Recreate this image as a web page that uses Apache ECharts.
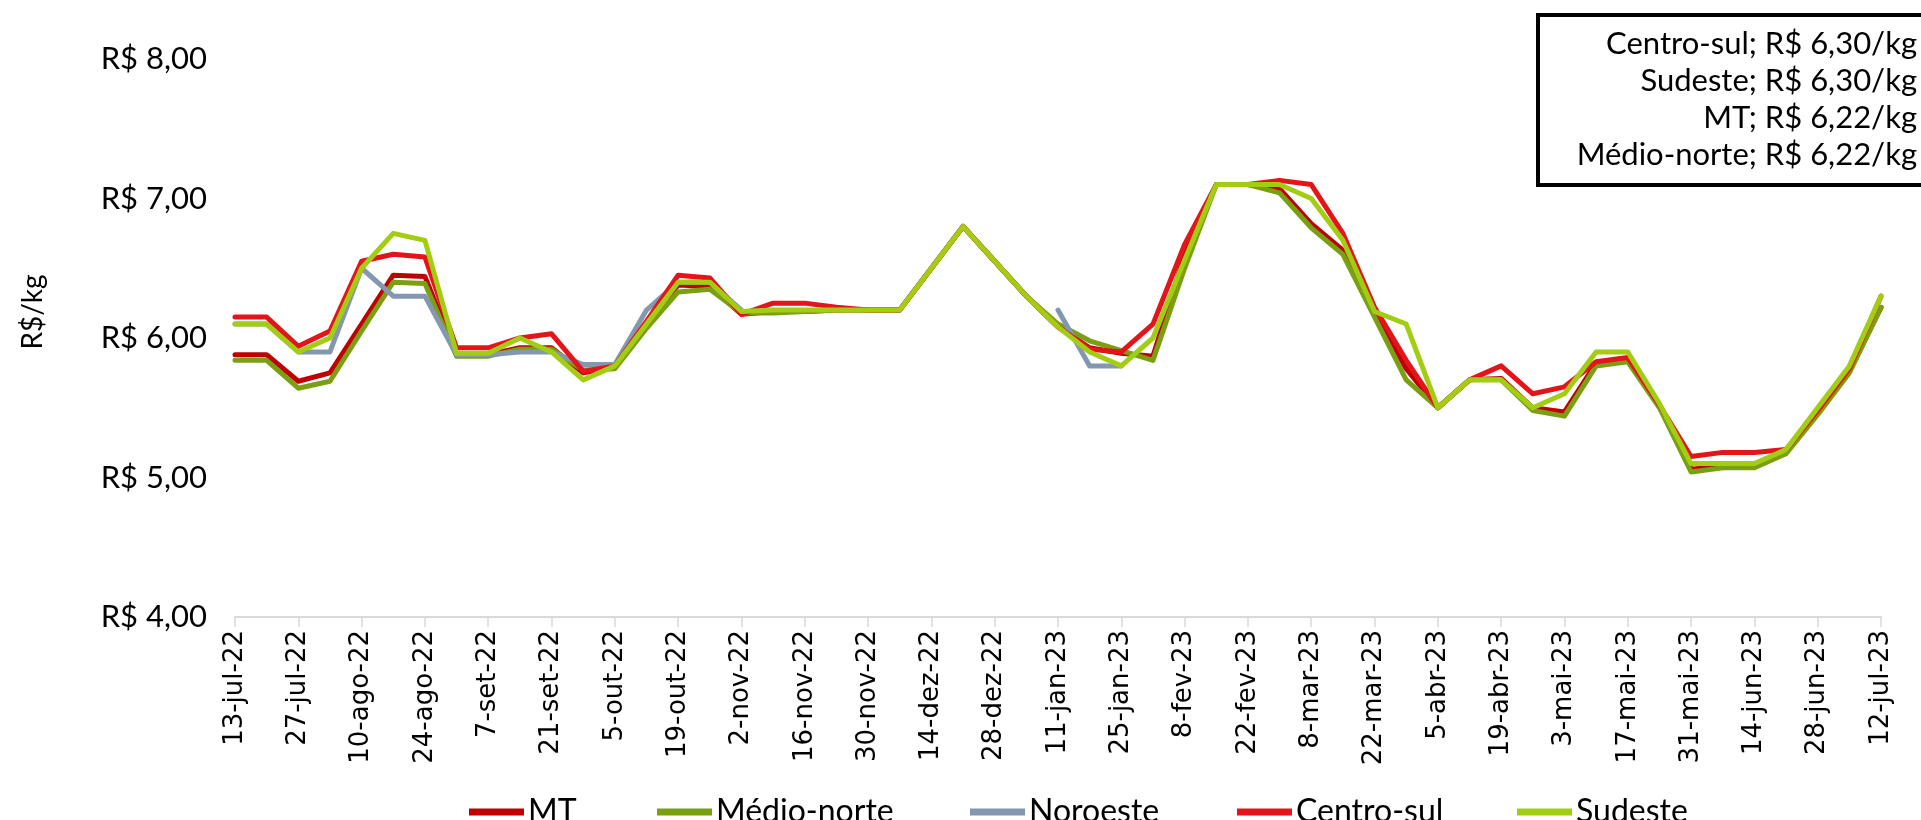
<!DOCTYPE html>
<html><head><meta charset="utf-8">
<script src="https://cdn.jsdelivr.net/npm/echarts@6/dist/echarts.min.js"></script>
<style>html,body{margin:0;padding:0;background:#fff}#c{width:1921px;height:820px}</style>
</head><body><div id="c"></div>
<script>
const categories = ['13-jul-22','20-jul-22','27-jul-22','3-ago-22','10-ago-22','17-ago-22','24-ago-22','31-ago-22','7-set-22','14-set-22','21-set-22','28-set-22','5-out-22','12-out-22','19-out-22','26-out-22','2-nov-22','9-nov-22','16-nov-22','23-nov-22','30-nov-22','7-dez-22','14-dez-22','21-dez-22','28-dez-22','4-jan-23','11-jan-23','18-jan-23','25-jan-23','1-fev-23','8-fev-23','15-fev-23','22-fev-23','1-mar-23','8-mar-23','15-mar-23','22-mar-23','29-mar-23','5-abr-23','12-abr-23','19-abr-23','26-abr-23','3-mai-23','10-mai-23','17-mai-23','24-mai-23','31-mai-23','7-jun-23','14-jun-23','21-jun-23','28-jun-23','5-jul-23','12-jul-23'];

const mt = [5.88,5.88,5.69,5.75,6.10,6.45,6.44,5.88,5.88,5.93,5.93,5.75,5.79,6.10,6.38,6.37,6.17,6.19,6.19,6.20,6.20,6.20,6.50,6.80,6.55,6.30,6.08,5.93,5.89,5.87,6.60,7.10,7.10,7.07,6.82,6.63,6.20,5.78,5.50,5.70,5.71,5.50,5.47,5.82,5.85,5.52,5.06,5.08,5.08,5.18,5.46,5.76,6.22];
const medioNorte = [5.84,5.84,5.64,5.69,6.05,6.40,6.39,5.87,5.87,5.92,5.92,5.77,5.78,6.07,6.33,6.35,6.18,6.18,6.19,6.20,6.20,6.20,6.50,6.80,6.55,6.30,6.10,5.98,5.91,5.84,6.50,7.10,7.10,7.04,6.79,6.60,6.15,5.70,5.50,5.70,5.70,5.48,5.44,5.80,5.83,5.50,5.04,5.07,5.07,5.17,5.45,5.75,6.22];
const noroeste = [6.10,6.10,5.90,5.90,6.50,6.30,6.30,5.88,5.88,5.90,5.90,5.81,5.81,6.20,6.40,6.40,6.20,null,null,null,null,null,null,null,null,null,6.20,5.80,5.80,null,null,null,null,null,null,null,null,null,null,null,null,null,null,null,null,null,null,null,null,null,null,null,null];
const centroSul = [6.15,6.15,5.94,6.05,6.55,6.60,6.58,5.93,5.93,6.00,6.03,5.76,5.80,6.12,6.45,6.43,6.17,6.25,6.25,6.22,6.20,6.20,6.50,6.80,6.55,6.30,6.08,5.92,5.90,6.10,6.67,7.10,7.10,7.13,7.10,6.75,6.22,5.84,5.50,5.70,5.80,5.60,5.65,5.83,5.86,5.52,5.15,5.18,5.18,5.20,5.48,5.78,6.30];
const sudeste = [6.10,6.10,5.90,6.00,6.50,6.75,6.70,5.89,5.89,6.00,5.90,5.70,5.80,6.10,6.40,6.40,6.19,6.20,6.20,6.20,6.20,6.20,6.50,6.80,6.55,6.30,6.08,5.90,5.80,6.00,6.56,7.10,7.10,7.10,7.00,6.70,6.19,6.10,5.50,5.70,5.70,5.50,5.60,5.90,5.90,5.53,5.10,5.10,5.10,5.20,5.50,5.80,6.30];

const seriesNames = ['MT','Médio-norte','Noroeste','Centro-sul','Sudeste'];
const boxLines = ['Centro-sul; R$ 6,30/kg','Sudeste; R$ 6,30/kg','MT; R$ 6,22/kg','Médio-norte; R$ 6,22/kg'];
const yAxisName = 'R$/kg';

const colors = ['#C00000','#7A9F12','#8497B0','#E3141A','#A2CD12'];
const dataArr = [mt, medioNorte, noroeste, centroSul, sudeste];
const legendLeft = [464, 652, 965, 1232, 1512];
const FONT = 'Lato, "Open Sans", sans-serif';

const chart = echarts.init(document.getElementById('c'), null, {renderer:'canvas'});
const option = {
  backgroundColor:'#fff',
  animation:false,
  color: colors,
  grid:{left:235, right:40, top:59, bottom:203, containLabel:false},
  xAxis:{
    type:'category', data:categories, boundaryGap:false,
    axisLine:{show:true, lineStyle:{color:'#D9D9D9', width:2}},
    axisTick:{show:true, interval:1, length:10, lineStyle:{color:'#D9D9D9', width:1.5}},
    axisLabel:{interval:1, rotate:90, margin:13, fontFamily:'"DejaVu Sans", sans-serif', fontSize:26, color:'#000'}
  },
  yAxis:{
    type:'value', min:4, max:8, interval:1,
    axisLine:{show:false}, axisTick:{show:false}, splitLine:{show:false},
    axisLabel:{margin:28, fontFamily:FONT, fontSize:31, color:'#000',
      formatter: v => 'R$ ' + v.toFixed(2).replace('.', ',')}
  },
  legend: seriesNames.map((n,i)=>({
    data:[n], left:legendLeft[i], top:791, itemWidth:55, itemHeight:7, icon:'rect',
    textStyle:{fontFamily:FONT, fontSize:32, color:'#000', padding:[0,0,0,-1]}
  })),
  series: seriesNames.map((n,i)=>({
    name:n, type:'line', data:dataArr[i], symbol:'none', smooth:false, connectNulls:false,
    lineStyle:{width:5, color:colors[i], cap:'round', join:'round'},
    itemStyle:{color:colors[i]}
  })),
  graphic:[
    {type:'text', x:33, y:312, rotation:Math.PI/2, style:{text:yAxisName, fontFamily:FONT, fontSize:28, fill:'#000', align:'center', verticalAlign:'middle'}},
    {type:'rect', shape:{x:1538, y:15, width:420, height:170}, style:{fill:'#fff', stroke:'#000', lineWidth:4}, z:10},
    ...boxLines.map((t,i)=>({type:'text', x:1917, y:44 + i*37, z:11,
      style:{text:t, fontFamily:FONT, fontSize:31, fill:'#000', align:'right', verticalAlign:'middle'}}))
  ]
};
chart.setOption(option);
</script></body></html>
